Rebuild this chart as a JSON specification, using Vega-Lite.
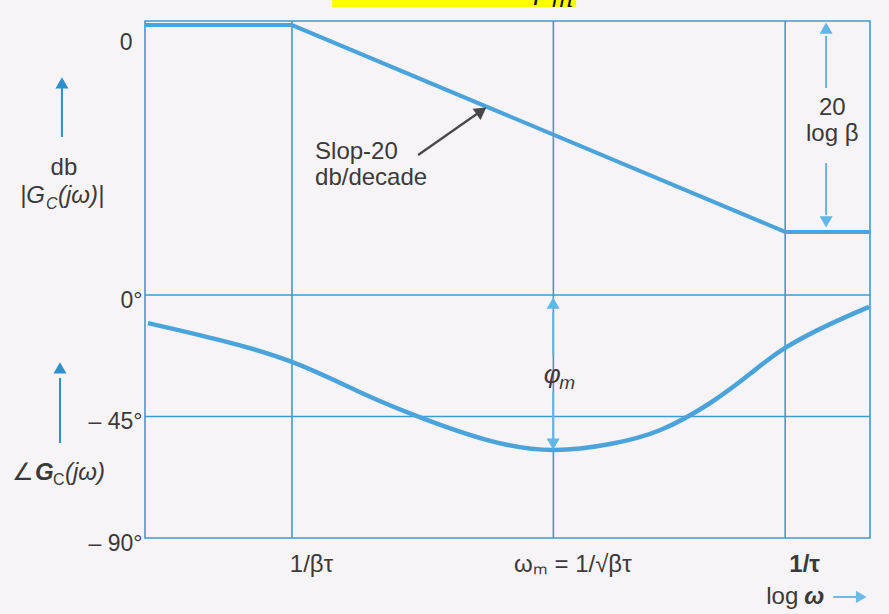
{
  "$schema": "https://vega.github.io/schema/vega-lite/v6.json",
  "width": 725,
  "height": 517,
  "autosize": {"type": "none"},
  "padding": {"left": 145, "top": 21, "right": 19, "bottom": 76},
  "background": "#f7f4f8",
  "config": {
    "view": {"stroke": "#3f9ad2", "strokeWidth": 1.6},
    "font": "Liberation Sans",
    "text": {"font": "Liberation Sans", "color": "#3a3a3a", "fontSize": 24}
  },
  "datasets": {
    "freqs": [{"w": -1}, {"w": -0.47}, {"w": 0}],
    "levels": [{"deg": 0}, {"deg": -45}],
    "mag": [
      {"w": -1.298, "db": 0},
      {"w": -1.0, "db": 0},
      {"w": 0.0, "db": -20},
      {"w": 0.172, "db": -20}
    ],
    "phase": [
      {"w": -1.292, "deg": -10.4},
      {"w": -1.146, "deg": -16.7},
      {"w": -1.0, "deg": -24.8},
      {"w": -0.862, "deg": -36.0},
      {"w": -0.74, "deg": -45.3},
      {"w": -0.598, "deg": -54.0},
      {"w": -0.47, "deg": -57.4},
      {"w": -0.355, "deg": -55.2},
      {"w": -0.253, "deg": -50.0},
      {"w": -0.152, "deg": -40.0},
      {"w": -0.071, "deg": -29.2},
      {"w": 0.0, "deg": -19.6},
      {"w": 0.091, "deg": -10.8},
      {"w": 0.17, "deg": -4.4}
    ],
    "magCenterText": [
      {"w": -1.4623, "db": -13.82, "t": "db"},
      {"w": 0.0955, "db": -8.02, "t": "20"},
      {"w": 0.0955, "db": -10.53, "t": "log β"}
    ],
    "slopeText": [
      {"w": -0.9532, "db": -12.95, "t": "Slop-20"},
      {"w": -0.9532, "db": -15.46, "t": "db/decade"}
    ],
    "magSymbolMain": [
      {"w": -1.5515, "db": -16.53, "t": "|G"},
      {"w": -1.4745, "db": -16.53, "t": "(jω)|"}
    ],
    "magSymbolSub": [{"w": -1.4988, "db": -17.3, "t": "C"}],
    "magShafts": [
      {"w": -1.4664, "db": -10.82, "db2": -6.09},
      {"w": 0.083, "db": -6.09, "db2": -1.06},
      {"w": 0.083, "db": -13.34, "db2": -18.36}
    ],
    "magHeadsUp": [
      {"w": -1.4664, "db": -5.6, "tone": "dark"},
      {"w": 0.083, "db": -0.29, "tone": "light"}
    ],
    "magHeadsDown": [{"w": 0.083, "db": -19.04}],
    "slopeArrow": [{"w": -0.7442, "db": -12.565, "w2": -0.6225, "db2": -8.504}],
    "slopeHead": [{"w": -0.6158, "db": -8.31}],
    "banner": [{"w": -0.9187, "w2": -0.4238, "db": 2.42, "db2": 1.743}],
    "bannerPhi": [{"w": -0.5029, "db": 2.517, "t": "φ"}],
    "bannerSub": [{"w": -0.4522, "db": 1.743, "t": "m"}],
    "phaseShafts": [
      {"w": -1.4704, "deg": -54.8, "deg2": -30.7, "tone": "dark"},
      {"w": -0.4704, "deg": -22.2, "deg2": -6.3, "tone": "light"},
      {"w": -0.4704, "deg": -35.9, "deg2": -53.7, "tone": "light"}
    ],
    "phaseHeadsUp": [
      {"w": -1.4704, "deg": -27.0, "tone": "dark"},
      {"w": -0.4704, "deg": -3.0, "tone": "light"}
    ],
    "phaseHeadsDown": [{"w": -0.4704, "deg": -55.2}],
    "angleSign": [{"w": -1.5678, "deg": -65.93, "t": "∠"}],
    "angleG": [{"w": -1.5211, "deg": -65.93, "t": "G"}],
    "angleSub": [{"w": -1.4846, "deg": -68.7, "t": "C"}],
    "angleArg": [{"w": -1.4603, "deg": -65.93, "t": "(jω)"}],
    "phiMain": [{"w": -0.4724, "deg": -29.63, "t": "φ"}],
    "phiSub": [{"w": -0.442, "deg": -32.59, "t": "m"}],
    "logText": [{"w": -0.0059, "deg": -112.0, "t": "log"}],
    "logOmega": [{"w": 0.059, "deg": -112.0, "t": "ω"}],
    "logArrow": [{"w": 0.0975, "w2": 0.1442, "deg": -111.85}],
    "logHead": [{"w": 0.1543, "deg": -111.85}]
  },
  "encoding": {
    "x": {
      "field": "w",
      "type": "quantitative",
      "scale": {"domain": [-1.298, 0.172], "nice": false, "zero": false},
      "axis": {
        "values": [-1, -0.47, 0],
        "labelExpr": "datum.value == -1 ? '1/βτ' : datum.value == 0 ? '1/τ' : 'ωₘ = 1/√βτ'",
        "title": null,
        "grid": false,
        "ticks": false,
        "domain": false,
        "labelFont": "Liberation Sans",
        "labelFontSize": 24,
        "labelColor": "#3a3a3a",
        "labelPadding": 14,
        "labelOffset": 19,
        "labelFlush": false,
        "labelOverlap": false,
        "labelBound": false,
        "labelFontWeight": {"condition": {"test": "datum.value == 0", "value": "bold"}, "value": "normal"}
      }
    }
  },
  "layer": [
    {
      "data": {"name": "freqs"},
      "mark": {"type": "rule", "color": "#3f9ad2", "strokeWidth": 1.6}
    },
    {
      "encoding": {
        "y": {
          "field": "db",
          "type": "quantitative",
          "scale": {"domain": [-26.1, 0.39], "range": [274, 0], "nice": false, "zero": false},
          "axis": {
            "orient": "left",
            "values": [0],
            "labelExpr": "'0'",
            "title": null,
            "grid": false,
            "ticks": false,
            "domain": false,
            "labelFont": "Liberation Sans",
            "labelFontSize": 23,
            "labelColor": "#3a3a3a",
            "labelPadding": 13,
            "labelOffset": 17,
            "labelFlush": false
          }
        }
      },
      "layer": [
        {
          "data": {"name": "banner"},
          "mark": {"type": "rect", "color": "#ffff00"},
          "encoding": {"x2": {"field": "w2"}, "y2": {"field": "db2"}}
        },
        {
          "data": {"name": "bannerPhi"},
          "mark": {"type": "text", "fontSize": 28, "fontStyle": "italic", "color": "#111111", "baseline": "alphabetic", "font": "DejaVu Serif"},
          "encoding": {"text": {"field": "t"}}
        },
        {
          "data": {"name": "bannerSub"},
          "mark": {"type": "text", "fontSize": 24, "fontStyle": "italic", "color": "#111111", "baseline": "alphabetic", "font": "DejaVu Serif"},
          "encoding": {"text": {"field": "t"}}
        },
        {
          "data": {"name": "mag"},
          "mark": {"type": "line", "color": "#4aa3da", "strokeWidth": 4}
        },
        {
          "data": {"name": "magShafts"},
          "mark": {"type": "rule", "strokeWidth": 2},
          "encoding": {
            "y2": {"field": "db2"},
            "color": {"field": "w", "type": "quantitative", "scale": {"domain": [-1.5, 0.1], "range": ["#2f8fcc", "#62b6e6"]}, "legend": null}
          }
        },
        {
          "data": {"name": "magHeadsUp"},
          "mark": {"type": "point", "shape": "triangle-up", "filled": true, "size": 170, "opacity": 1},
          "encoding": {
            "color": {"field": "tone", "type": "nominal", "scale": {"domain": ["dark", "light"], "range": ["#2f8fcc", "#62b6e6"]}, "legend": null}
          }
        },
        {
          "data": {"name": "magHeadsDown"},
          "mark": {"type": "point", "shape": "triangle-down", "filled": true, "size": 170, "opacity": 1, "color": "#62b6e6"}
        },
        {
          "data": {"name": "slopeArrow"},
          "mark": {"type": "rule", "color": "#474747", "strokeWidth": 2.2},
          "encoding": {"x2": {"field": "w2"}, "y2": {"field": "db2"}}
        },
        {
          "data": {"name": "slopeHead"},
          "mark": {"type": "point", "shape": "triangle-up", "filled": true, "size": 190, "angle": 55, "opacity": 1, "color": "#474747"}
        },
        {
          "data": {"name": "magCenterText"},
          "mark": {"type": "text", "align": "center", "baseline": "middle"},
          "encoding": {"text": {"field": "t"}}
        },
        {
          "data": {"name": "slopeText"},
          "mark": {"type": "text", "align": "left", "baseline": "alphabetic"},
          "encoding": {"text": {"field": "t"}}
        },
        {
          "data": {"name": "magSymbolMain"},
          "mark": {"type": "text", "align": "left", "baseline": "middle", "fontStyle": "italic"},
          "encoding": {"text": {"field": "t"}}
        },
        {
          "data": {"name": "magSymbolSub"},
          "mark": {"type": "text", "align": "left", "baseline": "middle", "fontStyle": "italic", "fontSize": 16},
          "encoding": {"text": {"field": "t"}}
        }
      ]
    },
    {
      "encoding": {
        "y": {
          "field": "deg",
          "type": "quantitative",
          "scale": {"domain": [-90, 0], "range": [517, 274], "nice": false, "zero": false},
          "axis": {
            "orient": "left",
            "values": [0, -45, -90],
            "labelExpr": "datum.value == 0 ? '0°' : datum.value == -45 ? '– 45°' : '– 90°'",
            "title": null,
            "grid": false,
            "ticks": false,
            "domain": false,
            "labelFont": "Liberation Sans",
            "labelFontSize": 23,
            "labelColor": "#3a3a3a",
            "labelPadding": 3,
            "labelOffset": 5,
            "labelFlush": false,
            "labelOverlap": false
          }
        }
      },
      "layer": [
        {
          "data": {"name": "levels"},
          "mark": {"type": "rule", "color": "#3f9ad2", "strokeWidth": 1.6},
          "encoding": {"x": null}
        },
        {
          "data": {"name": "phase"},
          "mark": {"type": "line", "color": "#4aa3da", "strokeWidth": 4.5, "interpolate": "natural"}
        },
        {
          "data": {"name": "phaseShafts"},
          "mark": {"type": "rule", "strokeWidth": 2},
          "encoding": {
            "y2": {"field": "deg2"},
            "color": {"field": "tone", "type": "nominal", "scale": {"domain": ["dark", "light"], "range": ["#2f8fcc", "#62b6e6"]}, "legend": null}
          }
        },
        {
          "data": {"name": "phaseHeadsUp"},
          "mark": {"type": "point", "shape": "triangle-up", "filled": true, "size": 170, "opacity": 1},
          "encoding": {
            "color": {"field": "tone", "type": "nominal", "scale": {"domain": ["dark", "light"], "range": ["#2f8fcc", "#62b6e6"]}, "legend": null}
          }
        },
        {
          "data": {"name": "phaseHeadsDown"},
          "mark": {"type": "point", "shape": "triangle-down", "filled": true, "size": 170, "opacity": 1, "color": "#62b6e6"}
        },
        {
          "data": {"name": "angleSign"},
          "mark": {"type": "text", "align": "left", "baseline": "middle"},
          "encoding": {"text": {"field": "t"}}
        },
        {
          "data": {"name": "angleG"},
          "mark": {"type": "text", "align": "left", "baseline": "middle", "fontStyle": "italic", "fontWeight": "bold"},
          "encoding": {"text": {"field": "t"}}
        },
        {
          "data": {"name": "angleSub"},
          "mark": {"type": "text", "align": "left", "baseline": "middle", "fontSize": 16},
          "encoding": {"text": {"field": "t"}}
        },
        {
          "data": {"name": "angleArg"},
          "mark": {"type": "text", "align": "left", "baseline": "middle", "fontStyle": "italic"},
          "encoding": {"text": {"field": "t"}}
        },
        {
          "data": {"name": "phiMain"},
          "mark": {"type": "text", "align": "center", "baseline": "middle", "fontStyle": "italic", "fontSize": 26},
          "encoding": {"text": {"field": "t"}}
        },
        {
          "data": {"name": "phiSub"},
          "mark": {"type": "text", "align": "center", "baseline": "middle", "fontStyle": "italic", "fontSize": 19},
          "encoding": {"text": {"field": "t"}}
        },
        {
          "data": {"name": "logText"},
          "mark": {"type": "text", "align": "center", "baseline": "middle"},
          "encoding": {"text": {"field": "t"}}
        },
        {
          "data": {"name": "logOmega"},
          "mark": {"type": "text", "align": "center", "baseline": "middle", "fontStyle": "italic", "fontWeight": "bold"},
          "encoding": {"text": {"field": "t"}}
        },
        {
          "data": {"name": "logArrow"},
          "mark": {"type": "rule", "color": "#6bbbe8", "strokeWidth": 2},
          "encoding": {"x2": {"field": "w2"}}
        },
        {
          "data": {"name": "logHead"},
          "mark": {"type": "point", "shape": "triangle-right", "filled": true, "size": 150, "opacity": 1, "color": "#6bbbe8"}
        }
      ]
    }
  ],
  "resolve": {"scale": {"y": "independent", "color": "independent"}}
}
